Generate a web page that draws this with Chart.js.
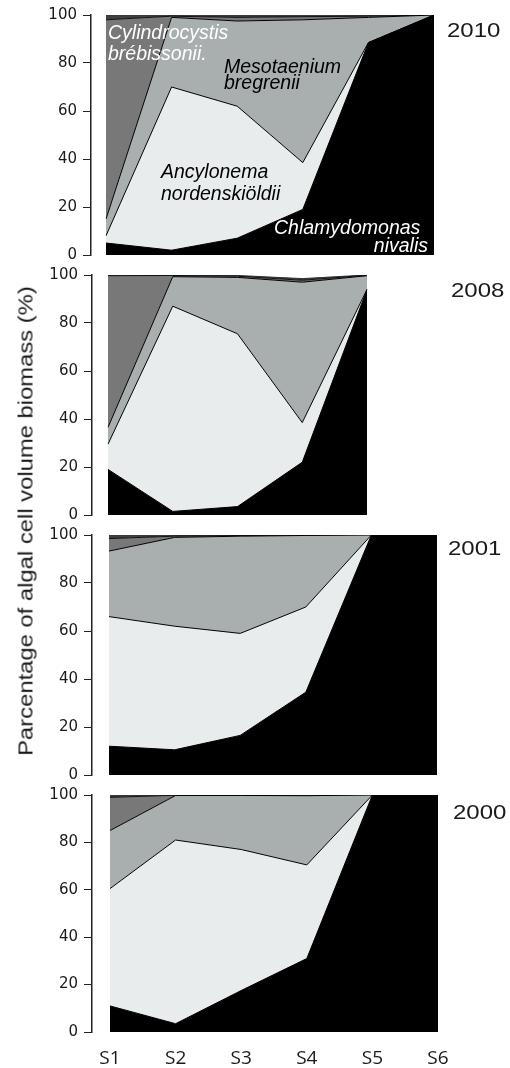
<!DOCTYPE html>
<html>
<head>
<meta charset="utf-8">
<script src="https://cdn.jsdelivr.net/npm/chart.js@4"></script>
<style>
    body { margin: 0; background: #ffffff; }
    #page { position: relative; width: 510px; height: 1068px; overflow: hidden; }
    .panel { position: absolute; left: 0; width: 510px; }
    #ytitle {
        position: absolute; left: 26px; top: 521px;
        font-family: 'Liberation Sans', Arial, sans-serif; font-size: 20px; color: #1a1a1a;
        white-space: nowrap;
        transform: translate(-50%, -50%) rotate(-90deg) scaleX(1.19);
    }
</style>
</head>
<body>
<div id="page">
    <div class="panel" id="box0"><canvas id="chart0"></canvas></div>
    <div class="panel" id="box1"><canvas id="chart1"></canvas></div>
    <div class="panel" id="box2"><canvas id="chart2"></canvas></div>
    <div class="panel" id="box3"><canvas id="chart3"></canvas></div>
    <div id="ytitle">Parcentage of algal cell volume biomass (%)</div>
</div>
<script>
// Sampling sites and years
const sites = ['S1', 'S2', 'S3', 'S4', 'S5', 'S6'];
const years = ['2010', '2008', '2001', '2000'];
const species = ['Chlamydomonas nivalis', 'Ancylonema nordenskiöldii', 'Mesotaenium bregrenii', 'Cylindrocystis brébissonii', 'Others'];

// Share of each species (%) per site, bottom layer first
const chlamydomonas2010 = [5, 2, 7, 19, 88.5, 100];
const ancylonema2010 = [3, 68, 55, 19.5, 0, 0];
const mesotaenium2010 = [7, 29, 35.5, 59.5, 10.5, 0];
const cylindrocystis2010 = [83, 0.5, 1.5, 1.3, 0.5, 0];
const others2010 = [2, 0.5, 1, 0.7, 0.5, 0];

const chlamydomonas2008 = [19, 1.5, 3.5, 22, 94];
const ancylonema2008 = [10.5, 85.5, 72, 16.5, 0];
const mesotaenium2008 = [7, 12.3, 23.5, 58.5, 5.7];
const cylindrocystis2008 = [63.2, 0.5, 0.5, 0.8, 0.2];
const others2008 = [0.3, 0.2, 0.3, 0.7, 0.1];

const chlamydomonas2001 = [12, 10.5, 16.5, 34.5, 100, 100];
const ancylonema2001 = [54, 51.5, 42.5, 35.5, 0, 0];
const mesotaenium2001 = [27.3, 37, 40.5, 29.8, 0, 0];
const cylindrocystis2001 = [5.2, 0.5, 0.3, 0.2, 0, 0];
const others2001 = [1.5, 0.5, 0.2, 0, 0, 0];

const chlamydomonas2000 = [11, 3.5, 17.5, 31, 100, 100];
const ancylonema2000 = [49.5, 77.5, 59.5, 39.5, 0, 0];
const mesotaenium2000 = [24.5, 18.8, 22.8, 29.2, 0, 0];
const cylindrocystis2000 = [14, 0.1, 0.1, 0.2, 0, 0];
const others2000 = [1, 0.1, 0.1, 0.1, 0, 0];

const yTicks = [0, 20, 40, 60, 80, 100];

const panelData = [
    [chlamydomonas2010, ancylonema2010, mesotaenium2010, cylindrocystis2010, others2010],
    [chlamydomonas2008, ancylonema2008, mesotaenium2008, cylindrocystis2008, others2008],
    [chlamydomonas2001, ancylonema2001, mesotaenium2001, cylindrocystis2001, others2001],
    [chlamydomonas2000, ancylonema2000, mesotaenium2000, cylindrocystis2000, others2000]
];

// Layout of each panel (pixels)
const panelBoxes = [
    { top: 0,   height: 270, axisX: 91, plotLeft: 106, plotRight: 434, plotTop: 15, plotBottom: 255, year: [447, 37] },
    { top: 260, height: 270, axisX: 92, plotLeft: 108, plotRight: 367, plotTop: 15, plotBottom: 255, year: [451, 37] },
    { top: 520, height: 270, axisX: 92, plotLeft: 109, plotRight: 437, plotTop: 15, plotBottom: 255, year: [448, 35] },
    { top: 780, height: 288, axisX: 92, plotLeft: 110, plotRight: 438, plotTop: 14, plotBottom: 252, year: [453, 39] }
];

const layerColors = ['#000000', '#e9eced', '#a9aeae', '#787878', '#404040'];
const lineColors = ['#000000', '#000000', '#000000', '#111111', '#333333'];

// Species names written inside the 2010 panel
const speciesLabels = [
    { text: 'Cylindrocystis', x: 108, y: 39, color: '#ffffff', align: 'left' },
    { text: 'brébissonii.', x: 108, y: 60, color: '#ffffff', align: 'left' },
    { text: 'Mesotaenium', x: 224, y: 73, color: '#000000', align: 'left' },
    { text: 'bregrenii', x: 224, y: 89, color: '#000000', align: 'left' },
    { text: 'Ancylonema', x: 161, y: 178, color: '#000000', align: 'left' },
    { text: 'nordenskiöldii', x: 161, y: 200, color: '#000000', align: 'left' },
    { text: 'Chlamydomonas', x: 274, y: 234, color: '#ffffff', align: 'left' },
    { text: 'nivalis', x: 428, y: 252, color: '#ffffff', align: 'right' }
];

const textPlugin = {
    id: 'panelText',
    afterDatasetsDraw(chart, args, opts) {
        const ctx = chart.ctx;
        ctx.save();
        // year label, slightly stretched like the original
        ctx.fillStyle = '#1a1a1a';
        ctx.font = '20px "Liberation Sans", Arial, sans-serif';
        ctx.textBaseline = 'alphabetic';
        ctx.textAlign = 'left';
        ctx.translate(opts.year[0], opts.year[1]);
        ctx.scale(1.2, 1);
        ctx.fillText(opts.yearText, 0, 0);
        ctx.restore();

        if (opts.showSpecies) {
            ctx.save();
            ctx.font = 'italic 19.5px "Liberation Sans", Arial, sans-serif';
            ctx.textBaseline = 'alphabetic';
            speciesLabels.forEach(lbl => {
                ctx.fillStyle = lbl.color;
                ctx.textAlign = lbl.align;
                ctx.fillText(lbl.text, lbl.x, lbl.y);
            });
            ctx.restore();
        }
    }
};

function buildPanel(i) {
    const box = panelBoxes[i];
    const holder = document.getElementById('box' + i);
    holder.style.top = box.top + 'px';
    holder.style.height = box.height + 'px';

    const layers = panelData[i];
    const labels = sites.slice(0, layers[0].length);
    const isLast = i === panelBoxes.length - 1;
    const xHeight = isLast ? box.height - box.plotBottom : 0;

    const datasets = layers.map((values, k) => ({
        label: species[k],
        data: values,
        backgroundColor: layerColors[k],
        borderColor: lineColors[k],
        borderWidth: 1,
        fill: k === 0 ? 'origin' : '-1',
        pointRadius: 0,
        tension: 0
    }));

    return new Chart(document.getElementById('chart' + i), {
        type: 'line',
        data: { labels: labels, datasets: datasets },
        options: {
            responsive: true,
            maintainAspectRatio: false,
            animation: false,
            layout: {
                padding: {
                    left: 0,
                    right: 510 - box.plotRight,
                    top: box.plotTop,
                    bottom: isLast ? 0 : box.height - box.plotBottom
                }
            },
            plugins: {
                legend: { display: false },
                tooltip: { enabled: false },
                panelText: { yearText: years[i], year: box.year, showSpecies: i === 0 }
            },
            scales: {
                x: {
                    display: isLast,
                    offset: false,
                    grid: { display: false, drawTicks: false },
                    border: { display: false },
                    ticks: {
                        padding: 15,
                        color: '#1a1a1a',
                        font: { family: '"Open Sans", sans-serif', size: 19 },
                        maxRotation: 0
                    },
                    afterFit: scale => { scale.height = xHeight; }
                },
                y: {
                    stacked: true,
                    min: 0,
                    max: 100,
                    weight: 2,
                    afterBuildTicks: scale => {
                        scale.ticks = yTicks.map(v => ({ value: v }));
                    },
                    ticks: {
                        padding: 6,
                        color: '#1a1a1a',
                        font: { family: '"DejaVu Sans", sans-serif', size: 15 }
                    },
                    grid: {
                        display: true,
                        drawOnChartArea: false,
                        drawTicks: true,
                        tickLength: 8,
                        color: '#222222',
                        lineWidth: 1
                    },
                    border: { display: true, color: '#222222', width: 1.5 },
                    afterFit: scale => { scale.width = box.axisX; }
                },
                gap: {
                    type: 'linear',
                    position: 'left',
                    weight: 0,
                    display: true,
                    grid: { display: false, drawTicks: false },
                    border: { display: false },
                    ticks: { display: false },
                    afterFit: scale => { scale.width = box.plotLeft - box.axisX; }
                }
            }
        },
        plugins: [textPlugin]
    });
}

panelBoxes.forEach((box, i) => buildPanel(i));
</script>
</body>
</html>
